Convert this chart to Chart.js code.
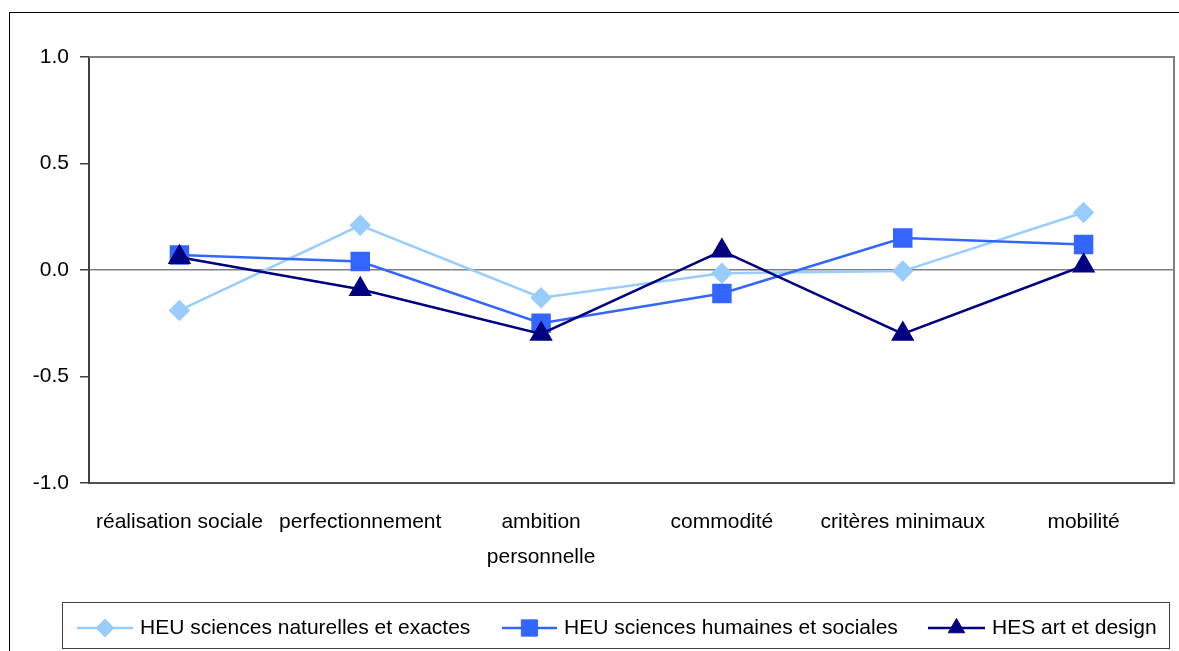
<!DOCTYPE html>
<html lang="fr">
<head>
<meta charset="UTF-8">
<title>Profils de motivation</title>
<script src="https://cdn.jsdelivr.net/npm/chart.js"></script>
<style>
    body { margin: 0; background: #fff; overflow: hidden; }
    .wrap { position: relative; width: 1179px; height: 651px; overflow: hidden; }
    .frame { position: absolute; left: 9px; top: 12px; width: 1200px; height: 700px; border: 1px solid #000; pointer-events: none; }
</style>
</head>
<body>
<div class="wrap">
    <canvas id="chart" width="1179" height="651"></canvas>
    <div class="frame"></div>
</div>
<script>
// données
const categories = ['réalisation sociale', 'perfectionnement', ['ambition', 'personnelle'], 'commodité', 'critères minimaux', 'mobilité'];
const seriesNames = ['HEU sciences naturelles et exactes', 'HEU sciences humaines et sociales', 'HES art et design'];
const naturelles = [-0.19, 0.21, -0.13, -0.015, -0.005, 0.27];
const humaines = [0.07, 0.04, -0.25, -0.11, 0.15, 0.12];
const artDesign = [0.06, -0.09, -0.30, 0.09, -0.30, 0.02];
const yTicks = [-1.0, -0.5, 0.0, 0.5, 1.0];

const FONT = "'Liberation Sans Narrow', 'Arial Narrow', 'Liberation Sans', sans-serif";

// cadre du graphique (haut et droite gris)
const plotBorder = {
    id: 'plotBorder',
    beforeDatasetsDraw(chart) {
        const { ctx, chartArea: a } = chart;
        ctx.save();
        ctx.strokeStyle = '#808080';
        ctx.lineWidth = 2;
        ctx.beginPath();
        ctx.moveTo(a.left, a.top);
        ctx.lineTo(a.right, a.top);
        ctx.lineTo(a.right, a.bottom);
        ctx.stroke();
        ctx.restore();
    }
};

// légende encadrée en bas
const boxLegend = {
    id: 'boxLegend',
    afterDraw(chart) {
        const ctx = chart.ctx;
        const items = [
            { line: [77, 133], text: 140 },
            { line: [502, 557], text: 564 },
            { line: [928, 985], text: 992 }
        ];
        const cy = 628;
        ctx.save();
        ctx.strokeStyle = '#404040';
        ctx.lineWidth = 1;
        ctx.strokeRect(62.5, 602.5, 1107, 46);
        chart.data.datasets.forEach((ds, i) => {
            const it = items[i];
            ctx.strokeStyle = ds.borderColor;
            ctx.lineWidth = ds.borderWidth;
            ctx.beginPath();
            ctx.moveTo(it.line[0], cy);
            ctx.lineTo(it.line[1], cy);
            ctx.stroke();
            ctx.fillStyle = ds.backgroundColor;
            ctx.strokeStyle = ds.borderColor;
            ctx.lineWidth = 1;
            Chart.helpers.drawPoint(ctx, {
                pointStyle: ds.pointStyle,
                radius: ds.legendRadius,
                borderWidth: 1,
                rotation: 0
            }, (it.line[0] + it.line[1]) / 2, cy);
            ctx.fillStyle = '#000';
            ctx.font = '21px ' + FONT;
            ctx.textBaseline = 'middle';
            ctx.textAlign = 'left';
            ctx.fillText(ds.label, it.text, cy);
        });
        ctx.restore();
    }
};

new Chart(document.getElementById('chart'), {
    type: 'line',
    data: {
        labels: categories,
        datasets: [
            {
                label: seriesNames[0],
                data: naturelles,
                borderColor: '#99CCFF',
                backgroundColor: '#99CCFF',
                borderWidth: 2.5,
                pointStyle: 'rectRot',
                pointRadius: 9,
                legendRadius: 9,
                order: 2
            },
            {
                label: seriesNames[1],
                data: humaines,
                borderColor: '#3366FF',
                backgroundColor: '#3366FF',
                borderWidth: 2.5,
                pointStyle: 'rect',
                pointRadius: 12,
                legendRadius: 11.5,
                order: 1
            },
            {
                label: seriesNames[2],
                data: artDesign,
                borderColor: '#000080',
                backgroundColor: '#000080',
                borderWidth: 2.5,
                pointStyle: 'triangle',
                pointRadius: 11,
                legendRadius: 9.5,
                order: 0
            }
        ]
    },
    options: {
        responsive: false,
        animation: false,
        clip: false,
        layout: { autoPadding: false, padding: { left: 0, top: 57, right: 5, bottom: 0 } },
        plugins: {
            legend: { display: false },
            tooltip: { enabled: false }
        },
        elements: {
            line: { tension: 0 },
            point: { borderWidth: 1, hoverRadius: 0 }
        },
        scales: {
            x: {
                offset: true,
                grid: { display: false, drawTicks: false },
                border: { display: true, color: '#505050', width: 2 },
                ticks: {
                    color: '#000',
                    padding: 22,
                    maxRotation: 0,
                    autoSkip: false,
                    font: { family: FONT, size: 21, lineHeight: 1.65 }
                },
                afterFit(scale) {
                    scale.height = 168;
                    scale.paddingLeft = 0;
                    scale.paddingRight = 0;
                }
            },
            y: {
                min: -1,
                max: 1,
                afterBuildTicks(scale) { scale.ticks = yTicks.map(v => ({ value: v })); },
                grid: {
                    color: c => (c.tick && c.tick.value === 0) ? '#808080' : 'rgba(0,0,0,0)',
                    lineWidth: 1.5,
                    tickColor: '#404040',
                    tickLength: 9,
                    tickWidth: 1.5
                },
                border: { display: true, color: '#404040', width: 2 },
                ticks: {
                    color: '#000',
                    padding: 11,
                    font: { family: FONT, size: 21 },
                    callback: v => Number(v).toFixed(1)
                },
                afterFit(scale) { scale.width = 89; }
            }
        }
    },
    plugins: [plotBorder, boxLegend]
});
</script>
</body>
</html>
